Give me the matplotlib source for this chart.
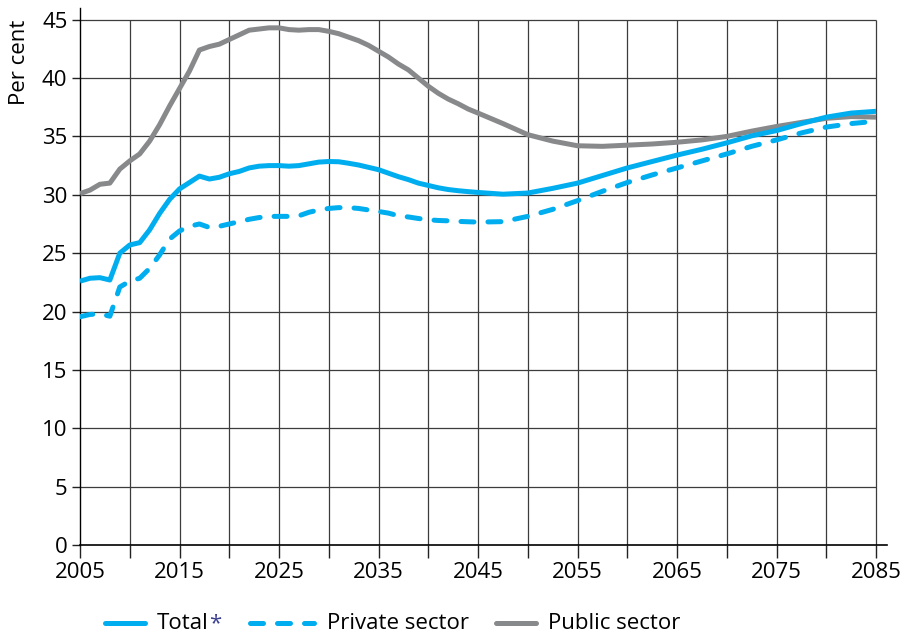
import matplotlib
matplotlib.use("Agg")
import matplotlib.pyplot as plt
from matplotlib.lines import Line2D

plt.rcParams['font.family'] = ['Open Sans', 'DejaVu Sans']

years = [2005, 2006, 2007, 2008, 2009, 2010, 2011, 2012, 2013, 2014, 2015, 2016, 2017, 2018,
         2019, 2020, 2021, 2022, 2023, 2024, 2025, 2026, 2027, 2028, 2029, 2030, 2031, 2032,
         2033, 2034, 2035, 2036, 2037, 2038, 2039, 2040, 2041, 2042, 2043, 2044, 2045,
         2047.5, 2050, 2052.5, 2055, 2057.5, 2060, 2062.5, 2065, 2067.5, 2070, 2072.5,
         2075, 2077.5, 2080, 2082.5, 2085]

public = [30.1, 30.4, 30.9, 31.0, 32.2, 32.9, 33.5, 34.6, 36.0, 37.6, 39.1, 40.6, 42.4, 42.7,
          42.9, 43.3, 43.7, 44.1, 44.2, 44.3, 44.3, 44.15, 44.1, 44.15, 44.15, 44.0, 43.8, 43.5,
          43.2, 42.8, 42.3, 41.8, 41.2, 40.7, 40.0, 39.3, 38.7, 38.2, 37.8, 37.35, 37.0,
          36.1, 35.15, 34.6, 34.2, 34.15, 34.25, 34.35, 34.5, 34.7, 35.0, 35.45,
          35.85, 36.2, 36.55, 36.7, 36.65]

total = [22.6, 22.85, 22.9, 22.7, 25.0, 25.7, 25.9, 27.0, 28.4, 29.6, 30.5, 31.05, 31.6, 31.35,
         31.5, 31.8, 32.0, 32.3, 32.45, 32.5, 32.5, 32.45, 32.5, 32.65, 32.8, 32.85, 32.83, 32.7,
         32.55, 32.35, 32.15, 31.85, 31.55, 31.3, 31.0, 30.8, 30.6, 30.45, 30.35, 30.27, 30.2,
         30.05, 30.15, 30.55, 31.0, 31.65, 32.3, 32.85, 33.4, 33.9, 34.45, 35.05,
         35.5, 36.1, 36.65, 37.0, 37.15]

private = [19.55, 19.75, 19.8, 19.6, 22.1, 22.6, 22.85, 23.7, 24.85, 26.2, 26.9, 27.3, 27.5, 27.2,
           27.3, 27.5, 27.7, 27.9, 28.05, 28.15, 28.15, 28.15, 28.2, 28.5, 28.7, 28.83, 28.9, 28.9,
           28.83, 28.7, 28.57, 28.43, 28.2, 28.1, 27.97, 27.86, 27.8, 27.77, 27.72, 27.69, 27.66,
           27.7, 28.15, 28.75, 29.5, 30.3, 31.05, 31.7, 32.3, 32.9, 33.5, 34.15,
           34.7, 35.3, 35.8, 36.1, 36.3]

x_ticks = list(range(2005, 2090, 5))
x_labels = [str(y) if (y - 2005) % 10 == 0 else '' for y in x_ticks]
y_ticks = list(range(0, 50, 5))
legend_labels = ['Total', 'Private sector', 'Public sector']

BLUE = '#00aeef'
GRAY = '#88898b'
GRID = '#3c3c3c'
FS = 16
DASH = (2.6, 2.8)

fig = plt.figure(figsize=(9.07, 6.35), dpi=100)
ax = fig.add_axes([80/907, 1-545/635, (887-80)/907, (545-8)/635])
ax.set_xlim(2005, 2086.1)
ax.set_ylim(0, 46)

# grid
ax.hlines(y_ticks[1:], 2005, 2085, colors=GRID, lw=0.9, zorder=1)
ax.vlines(x_ticks[1:], 0, 45, colors=GRID, lw=0.9, zorder=1)

ax.plot(years, public, color=GRAY, lw=3.6, solid_capstyle='butt', zorder=3)
ax.plot(years, private, color=BLUE, lw=3.6, dashes=DASH, dash_capstyle='round', zorder=4)
ax.plot(years, total, color=BLUE, lw=3.6, solid_capstyle='butt', zorder=5)

for s in ['top', 'right']:
    ax.spines[s].set_visible(False)
ax.spines['left'].set_color('black')
ax.spines['left'].set_linewidth(1.0)
ax.spines['bottom'].set_color('black')
ax.spines['bottom'].set_linewidth(1.2)

ax.set_xticks(x_ticks)
ax.set_xticklabels(x_labels, fontsize=FS)
ax.set_yticks(y_ticks)
ax.set_yticklabels([str(v) for v in y_ticks], fontsize=FS)
ax.tick_params(axis='x', direction='out', length=9, width=1.0, color='#222222', pad=3)
ax.tick_params(axis='y', direction='out', length=6, width=1.0, color='#222222', pad=3)

fig.text(19.5/907, 1-20/635, 'Per cent', rotation=90, ha='center', va='top', fontsize=FS)

# legend
ly = 1 - 623/635
lb = 1 - 629/635
fig.add_artist(Line2D([105/907, 145/907], [ly, ly], color=BLUE, lw=3.6, solid_capstyle='round'))
t = fig.text(157/907, lb, legend_labels[0], ha='left', va='baseline', fontsize=FS)
fig.canvas.draw()
bb = t.get_window_extent()
fig.text((bb.x1 + 0.5)/907, lb, '*', ha='left', va='baseline', fontsize=FS, color='#3b3f8f')
fig.add_artist(Line2D([250/907, 314/907], [ly, ly], color=BLUE, lw=3.6, dashes=DASH,
                      dash_capstyle='round'))
fig.text(327/907, lb, legend_labels[1], ha='left', va='baseline', fontsize=FS)
fig.add_artist(Line2D([496/907, 536/907], [ly, ly], color=GRAY, lw=3.6, solid_capstyle='round'))
fig.text(548/907, lb, legend_labels[2], ha='left', va='baseline', fontsize=FS)

fig.savefig('out.png', dpi=100)
